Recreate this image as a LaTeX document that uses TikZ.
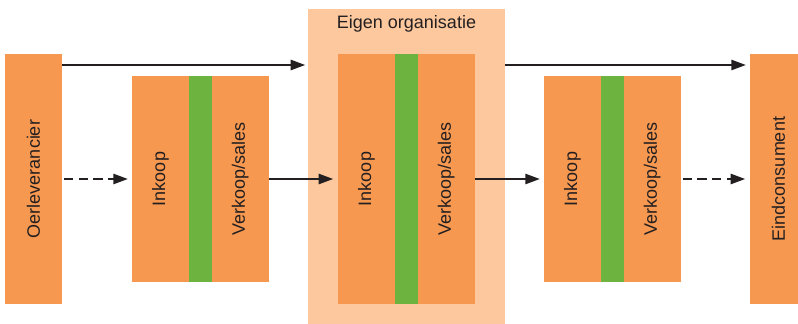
\documentclass[tikz,border=0pt]{standalone}
\usepackage{fontspec}
\setmainfont{Liberation Sans}
\usepackage{graphicx}
\usetikzlibrary{arrows.meta,positioning}

\definecolor{oranje}{RGB}{247,152,80}
\definecolor{groen}{RGB}{108,179,63}
\definecolor{perzik}{RGB}{253,200,158}
\definecolor{tekst}{RGB}{35,31,32}

\tikzset{
  blok/.style={fill=oranje, inner sep=0pt, outer sep=0pt, minimum width=42.75pt, text=tekst,
               font=\fontsize{13.5}{16}\selectfont},
  hoog/.style={blok, minimum height=187.5pt},
  laag/.style={blok, minimum height=153.75pt},
  strook/.style={fill=groen, minimum width=17pt},
  pijl/.style={line width=1.9pt, draw=tekst, -{Triangle[length=11pt,width=7.5pt]}},
  stippel/.style={pijl, dash pattern=on 7pt off 4pt}
}

\begin{document}
\begin{tikzpicture}[x=0.75pt,y=-0.75pt]
\useasboundingbox (0,0) rectangle (798,324);

% eigen organisatie
\node[fill=perzik, minimum width=147.75pt, minimum height=236.25pt, inner sep=0pt, outer sep=0pt] (org) at (406.5,166.5) {};
\node[text=tekst, font=\fontsize{13.5}{16}\selectfont] (titel) at (406.5,24) {Eigen organisatie};

\node[hoog] (oer) at (33.5,179) {\rotatebox{90}{Oerleverancier}};

\node[laag] (ink1) at (160.5,179) {\rotatebox{90}{Inkoop}};
\node[laag, strook] (g1) [right=0pt of ink1] {};
\node[laag] (vk1) [right=0pt of g1] {\rotatebox{90}{Verkoop/sales}};

\node[hoog] (ink2) at (366.5,179) {\rotatebox{90}{Inkoop}};
\node[hoog, strook] (g2) [right=0pt of ink2] {};
\node[hoog] (vk2) [right=0pt of g2] {\rotatebox{90}{Verkoop/sales}};

\node[laag] (ink3) at (572.5,179) {\rotatebox{90}{Inkoop}};
\node[laag, strook] (g3) [right=0pt of ink3] {};
\node[laag] (vk3) [right=0pt of g3] {\rotatebox{90}{Verkoop/sales}};

\node[hoog] (eind) at (778.5,179) {\rotatebox{90}{Eindconsument}};

% pijlen
\coordinate (boven) at (0,65);
\draw[pijl] (oer.east |- boven) -- ([xshift=-2pt]org.west |- boven);
\draw[pijl] (org.east |- boven) -- ([xshift=-3pt]eind.west |- boven);

\draw[stippel] ([xshift=1.5pt]oer.east) -- ([xshift=-3pt]ink1.west);
\draw[pijl] (vk1.east) -- ([xshift=-3.5pt]ink2.west);
\draw[pijl] (vk2.east) -- ([xshift=-3pt]ink3.west);
\draw[stippel] ([xshift=1.5pt]vk3.east) -- ([xshift=-3.5pt]eind.west);
\end{tikzpicture}
\end{document}
